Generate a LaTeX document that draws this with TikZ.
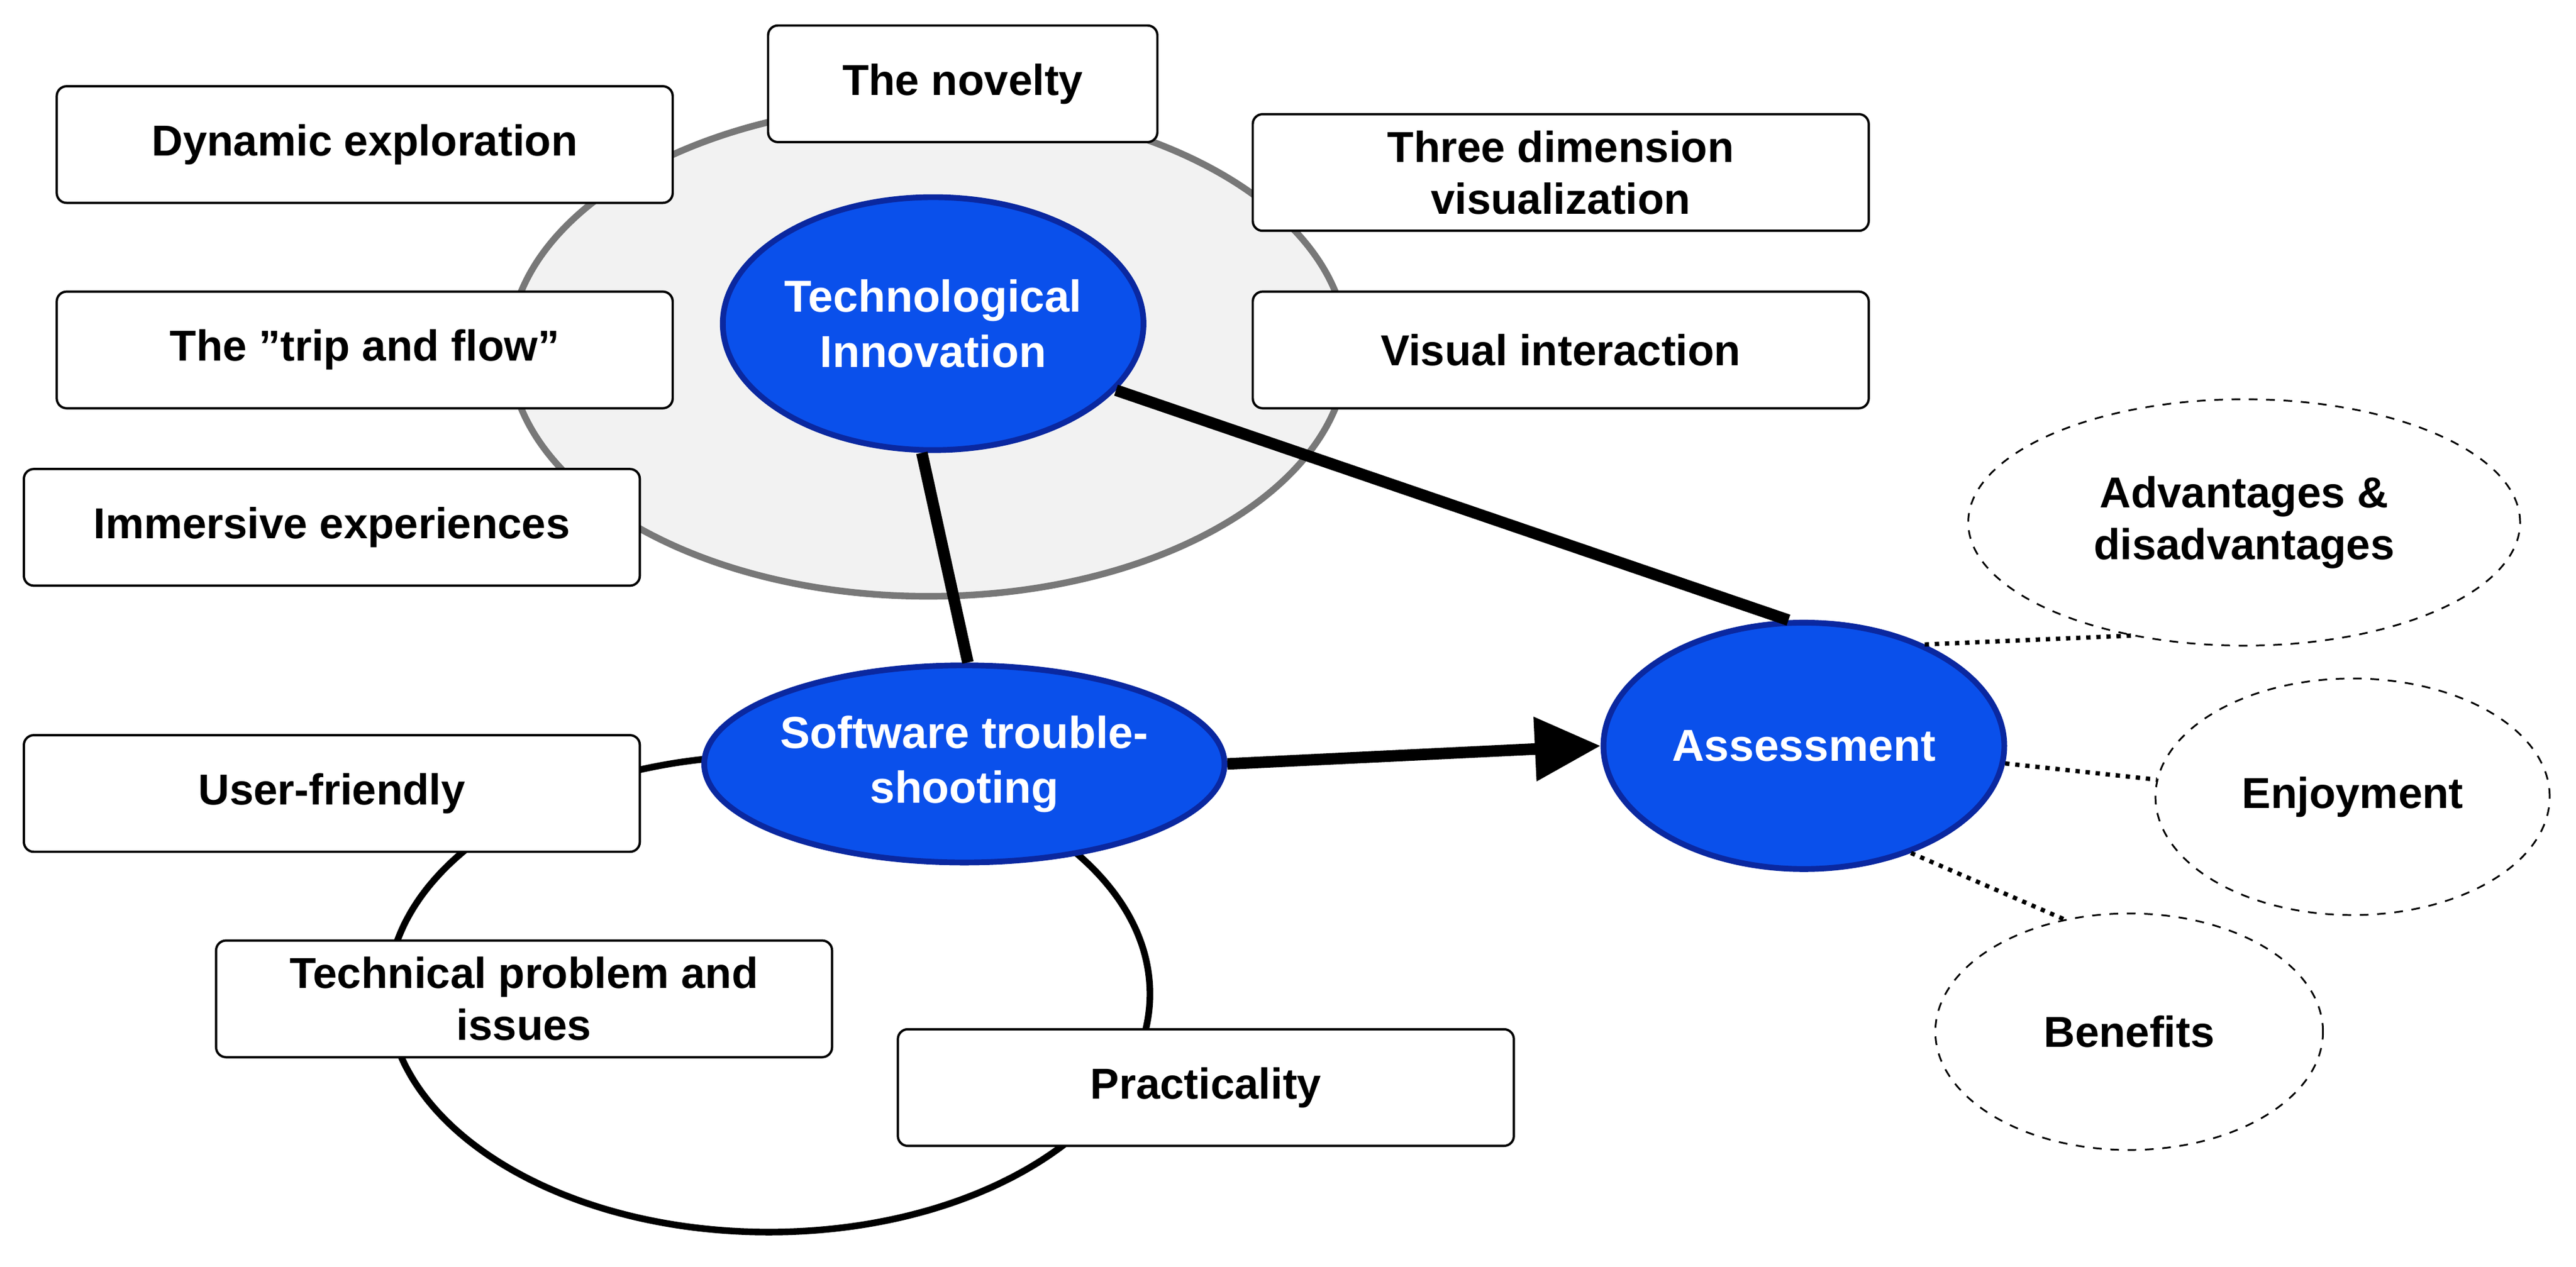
\documentclass[tikz,border=0pt]{standalone}
\usepackage{fontspec}
\setmainfont{Liberation Sans}
\usetikzlibrary{shapes.geometric,arrows.meta}
\begin{document}
\begin{tikzpicture}[x=0.02cm,y=-0.02cm,
 box/.style={draw=black,line width=0.8pt,rounded corners=0.12cm,fill=white,minimum width=7.5cm,minimum height=1.42cm,align=center,inner sep=2pt,font=\fontsize{15}{18}\selectfont\bfseries},
 blueell/.style={ellipse,draw={rgb,255:red,10;green,40;blue,160},line width=2pt,fill={rgb,255:red,10;green,80;blue,235},text=white,align=center,inner sep=0pt,font=\fontsize{15.5}{19}\selectfont\bfseries},
 dashell/.style={ellipse,draw=black,dashed,line width=0.6pt,fill=white,align=center,inner sep=0pt,font=\fontsize{15}{18}\selectfont\bfseries},
 link/.style={line width=4pt,black},
 dotlink/.style={line width=1.5pt,dotted}]
\useasboundingbox (0,0) rectangle (1568,771);
\node[ellipse,draw={rgb,255:red,120;green,120;blue,120},line width=2.3pt,fill={rgb,255:red,242;green,242;blue,242},minimum width=10.2cm,minimum height=6cm,inner sep=0pt] (gray) at (565,213) {};
\node[ellipse,draw=black,line width=2.3pt,minimum width=9.28cm,minimum height=5.8cm,inner sep=0pt] (loop) at (468,605) {};
\node[box,minimum width=4.74cm] (nov) at (586,51) {The novelty};
\node[box] (dyn) at (222,88) {Dynamic exploration};
\node[box] (three) at (950,105) {Three dimension\\visualization};
\node[box] (trip) at (222,213) {The "trip and flow"};
\node[box] (vis) at (950,213) {Visual interaction};
\node[box] (imm) at (202,321) {Immersive experiences};
\node[box] (user) at (202,483) {User-friendly};
\node[box] (tech) at (319,608) {Technical problem and\\issues};
\node[box] (prac) at (734,662) {Practicality};
\node[blueell,minimum width=4.88cm,minimum height=3.08cm] (ti) at (568,197) {Technological\\Innovation};
\node[blueell,minimum width=5.72cm,minimum height=2.4cm] (sw) at (587,465) {Software trouble-\\shooting};
\node[blueell,minimum width=4.88cm,minimum height=3cm] (as) at (1098,454) {Assessment};
\node[dashell,minimum width=6.72cm,minimum height=3cm] (adv) at (1366,318) {Advantages \&\\disadvantages};
\node[dashell,minimum width=4.8cm,minimum height=2.88cm] (enj) at (1432,485) {Enjoyment};
\node[dashell,minimum width=4.72cm,minimum height=2.88cm] (ben) at (1296,628) {Benefits};
\draw[link] (ti.265) -- (sw.88);
\draw[link] (ti.-20) -- (as.97);
\draw[link,-{Triangle[length=0.8cm,width=0.75cm]}] (sw.east) -- (as.west);
\draw[dotlink] (as.40) -- (adv.225);
\draw[dotlink] (as.-5) -- (enj.175);
\draw[dotlink] (as.-45) -- (ben.120);
\end{tikzpicture}
\end{document}
